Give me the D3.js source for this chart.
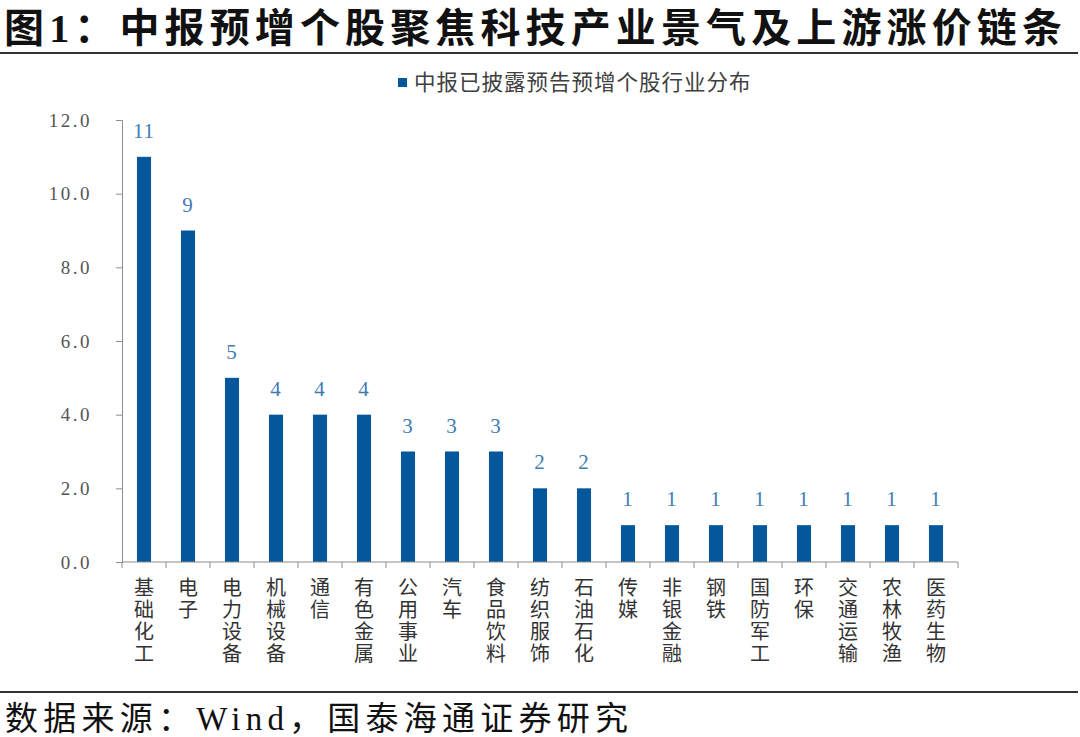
<!DOCTYPE html>
<html>
<head>
<meta charset="utf-8">
<script src="https://cdn.jsdelivr.net/npm/d3@7"></script>
<style>
  html, body { margin: 0; padding: 0; background: #fff; }
  svg { display: block; }
</style>
</head>
<body>
<div id="chart"></div>
<script>
var titleText = "图1：中报预增个股聚焦科技产业景气及上游涨价链条";
var sourceText = "数据来源：Wind，国泰海通证券研究";
var seriesName = "中报已披露预告预增个股行业分布";

var categories = ["基础化工", "电子", "电力设备", "机械设备", "通信", "有色金属", "公用事业",
  "汽车", "食品饮料", "纺织服饰", "石油石化", "传媒", "非银金融", "钢铁", "国防军工",
  "环保", "交通运输", "农林牧渔", "医药生物"];
var values = [11, 9, 5, 4, 4, 4, 3, 3, 3, 2, 2, 1, 1, 1, 1, 1, 1, 1, 1];
var yTicks = [0, 2, 4, 6, 8, 10, 12];

var W = 1080, H = 737;
var serif = "'Liberation Serif', 'Noto Sans CJK SC', serif";
var cjk = "'Noto Sans CJK SC', sans-serif";

var svg = d3.select("#chart").append("svg")
  .attr("width", W).attr("height", H);

// title + rule
svg.append("text")
  .attr("x", 4).attr("y", 42)
  .attr("font-family", serif)
  .attr("font-weight", "bold")
  .attr("font-size", "40px")
  .attr("textLength", 1058)
  .attr("lengthAdjust", "spacing")
  .attr("fill", "#111")
  .text(titleText);
svg.append("line")
  .attr("x1", 0).attr("x2", 1078).attr("y1", 53).attr("y2", 53)
  .attr("stroke", "#333").attr("stroke-width", 2);

// plot scales
var x = d3.scaleBand().domain(categories).range([122, 958]).paddingInner(0.68).paddingOuter(0.34);
var y = d3.scaleLinear().domain([0, 12]).range([562, 120]);

// bars
svg.selectAll("rect.bar")
  .data(values)
  .enter()
  .append("rect")
  .attr("class", "bar")
  .attr("x", function (d, i) { return x(categories[i]); })
  .attr("width", x.bandwidth())
  .attr("y", function (d) { return y(d); })
  .attr("height", function (d) { return y(0) - y(d); })
  .attr("fill", "#03579a");

// value labels
svg.selectAll("text.val")
  .data(values)
  .enter()
  .append("text")
  .attr("class", "val")
  .attr("x", function (d, i) { return x(categories[i]) + x.bandwidth() / 2; })
  .attr("y", function (d) { return y(d) - 19; })
  .attr("text-anchor", "middle")
  .attr("font-family", serif)
  .attr("font-size", "21px")
  .attr("letter-spacing", "1px")
  .attr("fill", "#3f7cb3")
  .text(function (d) { return d; });

// y axis
var yAxis = d3.axisLeft(y).tickValues(yTicks).tickFormat(d3.format(".1f")).tickSize(6).tickPadding(24);
var gy = svg.append("g").attr("transform", "translate(122,0)").call(yAxis);
gy.select(".domain").attr("stroke", "#8c8c8c");
gy.selectAll(".tick line").attr("stroke", "#8c8c8c");
gy.selectAll(".tick text")
  .attr("font-family", serif)
  .attr("font-size", "19px")
  .attr("letter-spacing", "2.5px")
  .attr("fill", "#555");

// x axis: line with ticks on category boundaries
var gx = svg.append("g");
gx.append("line")
  .attr("x1", 122).attr("x2", 958)
  .attr("y1", y(0)).attr("y2", y(0))
  .attr("stroke", "#8c8c8c");
var step = x.step();
var bounds = d3.range(categories.length + 1).map(function (i) { return 122 + i * step; });
gx.selectAll("line.xt")
  .data(bounds)
  .enter()
  .append("line")
  .attr("class", "xt")
  .attr("x1", function (d) { return d; }).attr("x2", function (d) { return d; })
  .attr("y1", y(0)).attr("y2", y(0) + 6)
  .attr("stroke", "#8c8c8c");

// vertical category labels, one character per text
var chars = [];
categories.forEach(function (c) {
  c.split("").forEach(function (ch, k) { chars.push({ cat: c, ch: ch, k: k }); });
});
svg.selectAll("text.cat")
  .data(chars)
  .enter()
  .append("text")
  .attr("class", "cat")
  .attr("text-anchor", "middle")
  .attr("font-family", cjk)
  .attr("font-size", "20px")
  .attr("fill", "#333")
  .attr("x", function (d) { return x(d.cat) + x.bandwidth() / 2; })
  .attr("y", function (d) { return 595 + d.k * 22; })
  .text(function (d) { return d.ch; });

// legend
svg.append("rect")
  .attr("x", 398).attr("y", 78).attr("width", 9).attr("height", 9)
  .attr("fill", "#03579a");
svg.append("text")
  .attr("x", 414).attr("y", 90)
  .attr("font-family", cjk)
  .attr("font-size", "21.5px")
  .attr("letter-spacing", "1px")
  .attr("fill", "#404040")
  .text(seriesName);

// footer rule + source
svg.append("line")
  .attr("x1", 0).attr("x2", 1078).attr("y1", 692).attr("y2", 692)
  .attr("stroke", "#333").attr("stroke-width", 2);
svg.append("text")
  .attr("x", 5).attr("y", 730)
  .attr("font-family", serif)
  .attr("font-size", "33px")
  .attr("textLength", 623)
  .attr("lengthAdjust", "spacing")
  .attr("fill", "#111")
  .text(sourceText);
</script>
</body>
</html>
